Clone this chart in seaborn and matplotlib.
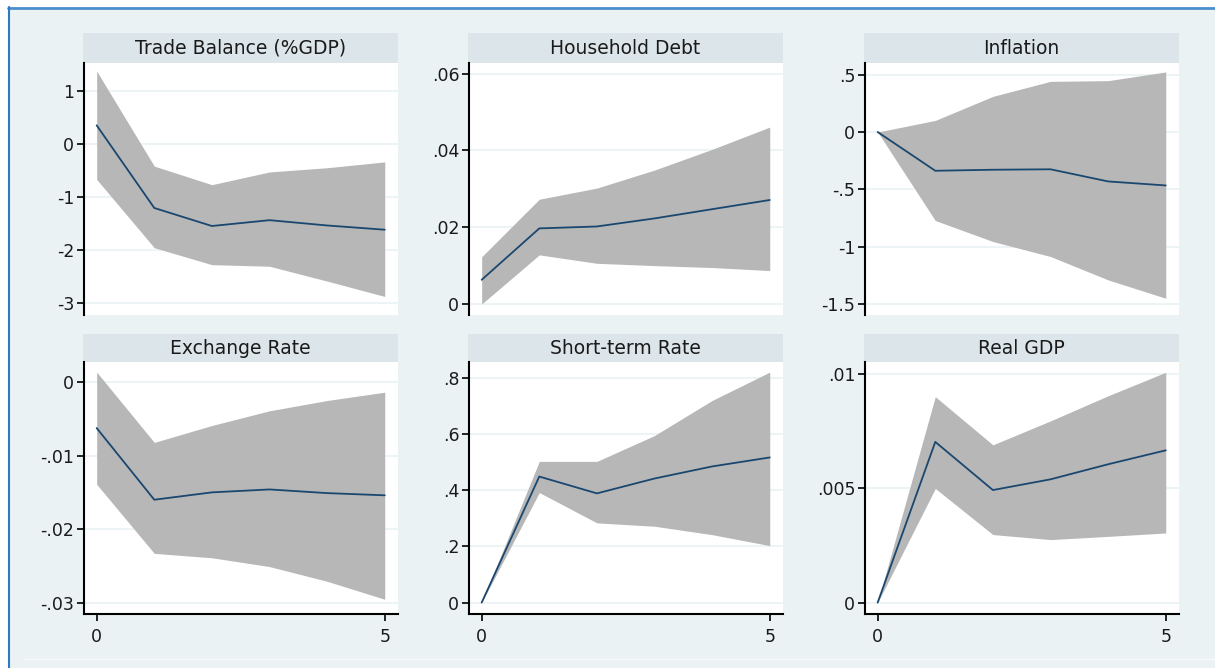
import numpy as np
import pandas as pd
import matplotlib
matplotlib.use("Agg")
import matplotlib.pyplot as plt
from matplotlib.patches import Rectangle
from matplotlib.lines import Line2D
import seaborn as sns

# Impulse response steps
steps = [0, 1, 2, 3, 4, 5]

titles = ["Trade Balance (%GDP)", "Household Debt", "Inflation",
          "Exchange Rate", "Short-term Rate", "Real GDP"]

# point estimate, upper and lower confidence bounds
irf = [
    [0.36, -1.20, -1.54, -1.43, -1.53, -1.61],
    [0.0063, 0.0197, 0.0202, 0.0223, 0.0247, 0.0271],
    [0.0, -0.338, -0.329, -0.325, -0.431, -0.466],
    [-0.00625, -0.0160, -0.0150, -0.0146, -0.0151, -0.0154],
    [0.0, 0.449, 0.389, 0.442, 0.485, 0.517],
    [0.0, 0.00704, 0.00493, 0.0054, 0.00606, 0.00667],
]
upper = [
    [1.385, -0.41, -0.76, -0.52, -0.44, -0.33],
    [0.0123, 0.0273, 0.0302, 0.0349, 0.0403, 0.0461],
    [0.0, 0.101, 0.311, 0.442, 0.448, 0.524],
    [0.00137, -0.0082, -0.0059, -0.0039, -0.0025, -0.00137],
    [0.0, 0.503, 0.503, 0.595, 0.72, 0.821],
    [0.0, 0.00902, 0.00691, 0.00796, 0.00906, 0.01009],
]
lower = [
    [-0.66, -1.95, -2.27, -2.30, -2.58, -2.87],
    [0.0, 0.0128, 0.0106, 0.0100, 0.0095, 0.0087],
    [0.0, -0.772, -0.955, -1.086, -1.29, -1.45],
    [-0.0139, -0.0233, -0.0239, -0.0251, -0.0271, -0.02955],
    [0.0, 0.392, 0.284, 0.272, 0.242, 0.203],
    [0.0, 0.0050, 0.00298, 0.00276, 0.0029, 0.00305],
]

ytick_vals = [
    [-3, -2, -1, 0, 1],
    [0, 0.02, 0.04, 0.06],
    [-1.5, -1, -0.5, 0, 0.5],
    [-0.03, -0.02, -0.01, 0],
    [0, 0.2, 0.4, 0.6, 0.8],
    [0, 0.005, 0.01],
]
ytick_labels = [
    ["-3", "-2", "-1", "0", "1"],
    ["0", ".02", ".04", ".06"],
    ["-1.5", "-1", "-.5", "0", ".5"],
    ["-.03", "-.02", "-.01", "0"],
    ["0", ".2", ".4", ".6", ".8"],
    ["0", ".005", ".01"],
]
ylims = [(-3.22, 1.537), (-0.00287, 0.0628), (-1.596, 0.602),
         (-0.03155, 0.00274), (-0.0406, 0.857), (-0.0005, 0.01054)]

xtick_vals = [0, 5]
xtick_labels = ["0", "5"]

bg = "#EAF2F3"
strip_col = "#DCE6EA"
band_col = "#B7B7B7"
line_col = "#1A476F"

sns.set_theme(style="white")
plt.rcParams["font.family"] = ["DejaVu Sans"]

W, H = 1215, 668
fig = plt.figure(figsize=(W / 100, H / 100), dpi=100, facecolor="white")


def fx(px):
    return px / W


def fy(py):
    return 1 - py / H


# outer frame of the graph window
fig.patches.append(Rectangle((fx(8), 0), 1 - fx(8), fy(7), transform=fig.transFigure,
                             facecolor=bg, edgecolor="none", zorder=-10))
fig.lines.append(Line2D([fx(8), 1], [fy(7.5), fy(7.5)], transform=fig.transFigure,
                        color="#4A8FCC", lw=2))
fig.lines.append(Line2D([fx(8.5), fx(8.5)], [0, fy(7)], transform=fig.transFigure,
                        color="#2F78C4", lw=1.5))
fig.lines.append(Line2D([fx(24), 1], [fy(659), fy(659)], transform=fig.transFigure,
                        color="#F6FAFB", lw=1))

col_x = [(84, 398), (469, 783), (865, 1179)]
row_y = [(33, 63, 315), (334, 362, 614)]

for i in range(6):
    r, c = divmod(i, 3)
    x0, x1 = col_x[c]
    s_top, p_top, p_bot = row_y[r]

    # strip with the panel title
    sax = fig.add_axes([fx(x0 - 1), fy(p_top), fx(x1 - x0 + 1), (p_top - s_top) / H])
    sax.set_facecolor(strip_col)
    sax.set_xticks([])
    sax.set_yticks([])
    for sp in sax.spines.values():
        sp.set_visible(False)
    sax.text(0.5, 0.5, titles[i], ha="center", va="center", fontsize=13.5,
             color="#1a1a1a", transform=sax.transAxes)

    ax = fig.add_axes([fx(x0), fy(p_bot), fx(x1 - x0), (p_bot - p_top) / H])
    ax.set_facecolor("white")
    df = pd.DataFrame({"step": steps, "irf": irf[i]})
    ax.fill_between(steps, lower[i], upper[i], color=band_col, lw=0, zorder=2)
    sns.lineplot(data=df, x="step", y="irf", ax=ax, color=line_col, lw=1.3, zorder=3)

    ax.set_xlim(-0.22, 5.23)
    ax.set_ylim(*ylims[i])
    ax.set_yticks(ytick_vals[i])
    ax.set_yticklabels(ytick_labels[i])
    ax.grid(axis="y", color=bg, lw=1.2)
    ax.grid(axis="x", visible=False)
    ax.set_axisbelow(True)
    ax.set_xlabel("")
    ax.set_ylabel("")
    for side in ["top", "right"]:
        ax.spines[side].set_visible(False)
    ax.spines["left"].set_color("black")
    ax.spines["left"].set_linewidth(1.5)
    ax.tick_params(axis="y", left=True, length=5, width=1.2, color="black",
                   labelsize=12.5, labelcolor="#1a1a1a", pad=2)
    if r == 0:
        ax.spines["bottom"].set_visible(False)
        ax.set_xticks([])
    else:
        ax.spines["bottom"].set_color("black")
        ax.spines["bottom"].set_linewidth(1.5)
        ax.set_xticks(xtick_vals)
        ax.set_xticklabels(xtick_labels)
        ax.tick_params(axis="x", bottom=True, length=5, width=1.2, color="black",
                       labelsize=12.5, labelcolor="#1a1a1a", pad=5)

fig.savefig("out.png", dpi=100, facecolor="white")
